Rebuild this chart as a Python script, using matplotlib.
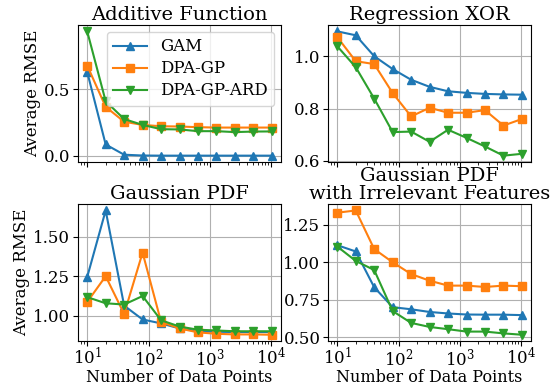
import matplotlib
matplotlib.use("Agg")
import matplotlib.pyplot as plt

plt.rcParams['font.family'] = 'serif'
plt.rcParams['font.serif'] = ['DejaVu Serif']
plt.rcParams['mathtext.fontset'] = 'dejavuserif'

n_points = [10, 20, 40, 80, 160, 320, 640, 1280, 2560, 5120, 10240]
methods = ['GAM', 'DPA-GP', 'DPA-GP-ARD']
markers = ['^', 's', 'v']

additive_gam = [0.63, 0.085, 0.008, 0.002, 0.001, 0.001, 0.001, 0.001, 0.001, 0.001, 0.001]
additive_gp = [0.678, 0.368, 0.256, 0.232, 0.222, 0.22, 0.215, 0.212, 0.212, 0.212, 0.212]
additive_ard = [0.935, 0.41, 0.276, 0.232, 0.2, 0.198, 0.185, 0.185, 0.178, 0.182, 0.183]

xor_gam = [1.095, 1.08, 1.0, 0.951, 0.91, 0.883, 0.866, 0.86, 0.856, 0.854, 0.853]
xor_gp = [1.073, 0.981, 0.97, 0.859, 0.77, 0.803, 0.784, 0.784, 0.794, 0.735, 0.76]
xor_ard = [1.038, 0.958, 0.838, 0.71, 0.712, 0.673, 0.719, 0.688, 0.655, 0.62, 0.627]

pdf_gam = [1.245, 1.668, 1.063, 0.975, 0.95, 0.918, 0.901, 0.897, 0.895, 0.895, 0.895]
pdf_gp = [1.086, 1.25, 1.01, 1.40, 0.96, 0.918, 0.893, 0.884, 0.88, 0.88, 0.878]
pdf_ard = [1.117, 1.078, 1.07, 1.124, 0.97, 0.93, 0.91, 0.905, 0.9, 0.9, 0.9]

irr_gam = [1.114, 1.072, 0.833, 0.70, 0.686, 0.668, 0.658, 0.651, 0.65, 0.65, 0.647]
irr_gp = [1.331, 1.346, 1.088, 1.0, 0.921, 0.877, 0.844, 0.844, 0.835, 0.844, 0.84]
irr_ard = [1.105, 1.009, 0.948, 0.674, 0.595, 0.568, 0.553, 0.537, 0.537, 0.525, 0.516]

panels = [
    ('Additive Function', [additive_gam, additive_gp, additive_ard], [0.0, 0.5]),
    ('Regression XOR', [xor_gam, xor_gp, xor_ard], [0.6, 0.8, 1.0]),
    ('Gaussian PDF', [pdf_gam, pdf_gp, pdf_ard], [1.0, 1.25, 1.5]),
    ('Gaussian PDF\nwith Irrelevant Features', [irr_gam, irr_gp, irr_ard], [0.5, 0.75, 1.0, 1.25]),
]

fig, axes = plt.subplots(2, 2, figsize=(5.55, 3.87), dpi=100, sharex=True)
fig.subplots_adjust(left=0.1405, right=0.957, top=0.935, bottom=0.119, wspace=0.2315, hspace=0.31)

for ax, (title, series, yticks) in zip(axes.flat, panels):
    for name, vals, m in zip(methods, series, markers):
        ax.plot(n_points, vals, marker=m, label=name)
    ax.set_xscale('log')
    ax.set_yticks(yticks)
    ax.set_title(title, fontsize=14, pad=4, linespacing=0.95)
    ax.grid(True, which='major')
    ax.tick_params(labelsize=12, pad=2)
    ax.tick_params(axis='x', pad=1)

axes[0, 0].legend(loc='upper right', fontsize=12, borderaxespad=0.4,
                  handlelength=2.0, labelspacing=0.3)
for ax in axes[:, 0]:
    ax.set_ylabel('Average RMSE', fontsize=12, labelpad=2)
for ax in axes[1, :]:
    ax.set_xlabel('Number of Data Points', fontsize=11.5, labelpad=0)

fig.savefig('out.png', dpi=100)
